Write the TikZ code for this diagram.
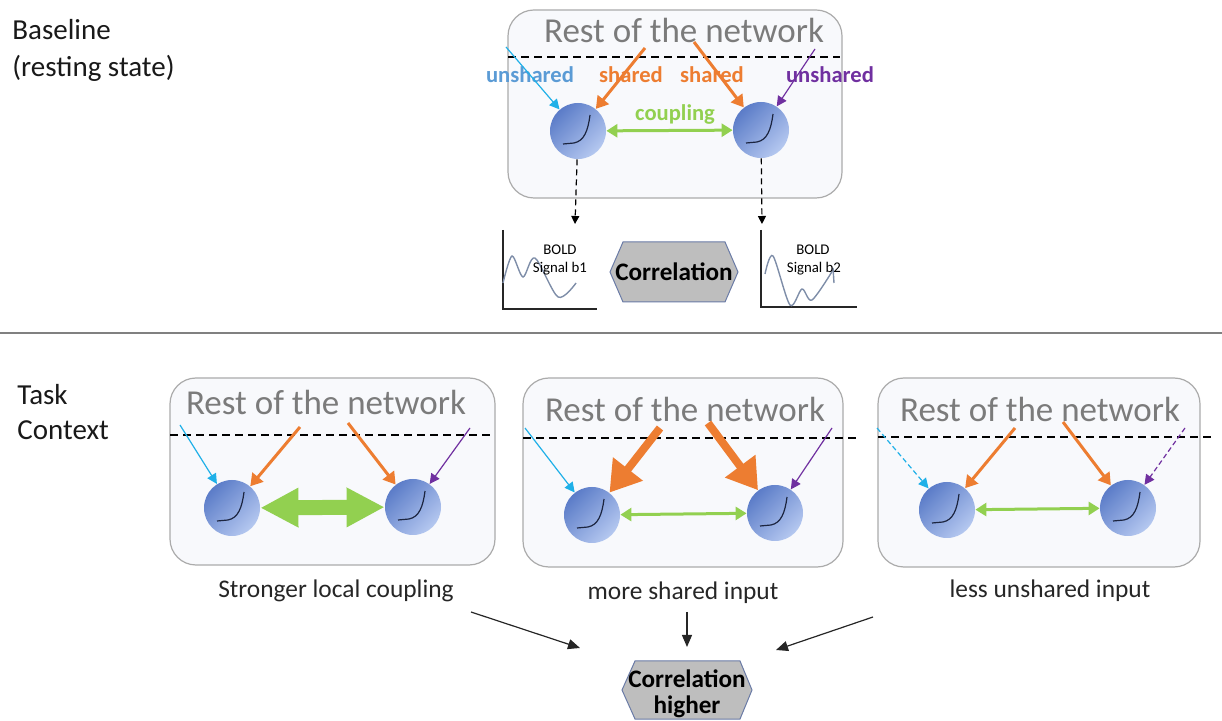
\documentclass[tikz,border=0pt]{standalone}
\usepackage{fontspec}
\setmainfont{Carlito}
\usetikzlibrary{arrows.meta}
\definecolor{boxfill}{HTML}{F8F9FC}
\definecolor{boxline}{HTML}{ABABAB}
\definecolor{restgray}{HTML}{7B7B7B}
\definecolor{cyanA}{HTML}{1FB0E8}
\definecolor{blueT}{HTML}{5B9BD5}
\definecolor{orangeA}{HTML}{ED7D31}
\definecolor{purpleA}{HTML}{7030A0}
\definecolor{greenA}{HTML}{92D050}
\definecolor{nbA}{HTML}{5B7CC8}
\definecolor{nbM}{HTML}{88A4E0}
\definecolor{nbB}{HTML}{B5C8F0}
\definecolor{hexfill}{HTML}{BEBEBE}
\definecolor{hexline}{HTML}{6A7BA6}
\definecolor{wavec}{HTML}{7E8DA8}
\definecolor{sepgray}{HTML}{808080}
\definecolor{curvec}{HTML}{1C2540}
\begin{document}
\begin{tikzpicture}[x=0.5pt,y=-0.5pt,
  netbox/.style={draw=boxline, line width=0.6pt, fill=boxfill, rounded corners=13pt, inner sep=0},
  restlabel/.style={text=restgray, font=\fontsize{17.5}{20}\selectfont, inner sep=0, anchor=base},
  netdash/.style={line width=1pt, dash pattern=on 4pt off 2.5pt},
  neuron/.style={circle, minimum size=28pt, inner sep=0, draw=none, top color=nbA, middle color=nbM, bottom color=nbB, shading angle=45,
    path picture={\begin{scope}[shift={(path picture bounding box.center)}]
      \draw[curvec, line width=0.6pt] (-7.5pt,-6.5pt) -- (-2pt,-6pt) .. controls (3pt,-5pt) and (5pt,0pt) .. (6pt,8pt);
    \end{scope}}},
  inlabel/.style={font=\bfseries\fontsize{11.3}{13}\selectfont, inner sep=0, anchor=base},
  thinarr/.style={line width=0.6pt, -{Triangle[width=5pt,length=5pt]}},
  thindash/.style={thinarr, dash pattern=on 2.5pt off 1.5pt},
  sharedarr/.style={draw=orangeA, line width=1.5pt, -{Triangle[width=7pt,length=6pt]}},
  bigshared/.style={draw=orangeA, line width=4pt, -{Triangle[width=18pt,length=15pt]}},
  couple/.style={draw=greenA, line width=1.5pt, {Triangle[width=6.5pt,length=5.5pt]}-{Triangle[width=6.5pt,length=5.5pt]}},
  bigcouple/.style={draw=greenA, line width=7.5pt, {Triangle[width=18.5pt,length=19pt]}-{Triangle[width=18.5pt,length=19pt]}},
  downarr/.style={line width=0.6pt, dash pattern=on 3pt off 2pt, -{Triangle[width=4pt,length=4pt]}},
  boldtxt/.style={font=\fontsize{7.4}{9}\selectfont, inner sep=0, anchor=base},
  hexshape/.style={fill=hexfill, draw=hexline, line width=0.5pt},
  corrtxt/.style={font=\bfseries\fontsize{12.6}{13}\selectfont, inner sep=0, align=center},
  caption/.style={font=\fontsize{12.7}{15}\selectfont, inner sep=0, anchor=base, text=black!85},
  sidetitle/.style={font=\fontsize{14.5}{18.5}\selectfont, inner sep=0, anchor=base west, text=black!90},
  resarr/.style={line width=0.6pt, draw=black!85, -{Triangle[width=5pt,length=6pt]}}
]
\useasboundingbox (0,0) rectangle (1222,721);

% side titles
\node[sidetitle] (tb1) at (12,40) {Baseline};
\node[sidetitle] (tb2) at (12,77) {(resting state)};
\node[sidetitle] (tt1) at (17,405) {Task};
\node[sidetitle] (tt2) at (17,440) {Context};

% separator
\draw[sepgray, line width=0.8pt] (0,333) -- (1222,333);

% ===== top box =====
\node[netbox, minimum width=167pt, minimum height=94pt] (box0) at (675,104) {};
\node[restlabel] (rest0) at (684,43) {Rest of the network};
\draw[netdash] (508,57) -- (840,57);
\node[neuron] (b0L) at (578,131) {};
\node[neuron] (b0R) at (761,130) {};
\node[inlabel, text=blueT] (u0L) at (530,83) {unshared};
\node[inlabel, text=orangeA] (s0L) at (631,83) {shared};
\node[inlabel, text=orangeA] (s0R) at (712,83) {shared};
\node[inlabel, text=purpleA] (u0R) at (830,83) {unshared};
\node[inlabel, text=greenA] (cp0) at (675,121) {coupling};
\coordinate (c0c) at (506,47);
\coordinate (c0oL) at (645,48);
\coordinate (c0oR) at (694,42);
\coordinate (c0p) at (815,49);
\draw[thinarr, cyanA] (c0c) -- (b0L);
\draw[sharedarr] (c0oL) -- (b0L);
\draw[sharedarr] (c0oR) -- (b0R);
\draw[thinarr, purpleA] (c0p) -- (b0R);
\draw[couple] (b0L) -- (b0R);
\coordinate (d0L) at (575,224);
\coordinate (d0R) at (762,224);
\draw[downarr] (b0L) -- (d0L);
\draw[downarr] (b0R) -- (d0R);

% BOLD graphs
\draw[black!85, line width=1pt] (503,230) -- (503,309) -- (597,309);
\draw[wavec, line width=0.7pt] plot[smooth] coordinates {(503,283) (512,256) (523,277) (535,258) (558,297) (576,283)};
\node[boldtxt] (bold1a) at (560,255) {BOLD};
\node[boldtxt] (bold1b) at (560,273) {Signal b1};
\draw[black!85, line width=1pt] (761,230) -- (761,307) -- (857,307);
\draw[wavec, line width=0.7pt] plot[smooth] coordinates {(765,274) (773,256) (790,305) (802,289) (812,300) (833,270)};
\draw[wavec, line width=0.7pt] (833,268) -- (834,283);
\node[boldtxt] (bold2a) at (813,255) {BOLD};
\node[boldtxt] (bold2b) at (814,273) {Signal b2};

% correlation hexagon top
\draw[hexshape] (610,272) -- (623,242) -- (725,242) -- (738,272) -- (725,302) -- (623,302) -- cycle;
\node[corrtxt] (corr1) at (674,272) {Correlation};

% ===== box 1 =====
\node[netbox, minimum width=162.5pt, minimum height=93.5pt] (box1) at (332.5,471.5) {};
\node[restlabel] (rest1) at (326,415) {Rest of the network};
\draw[netdash] (170,435) -- (493,435);
\node[neuron] (b1L) at (232,508) {};
\node[neuron] (b1R) at (413,507) {};
\coordinate (c1c) at (180,425);
\coordinate (c1oL) at (300,427);
\coordinate (c1oR) at (348,423);
\coordinate (c1p) at (470,428);
\draw[thinarr, cyanA] (c1c) -- (b1L);
\draw[sharedarr] (c1oL) -- (b1L);
\draw[sharedarr] (c1oR) -- (b1R);
\draw[thinarr, purpleA] (c1p) -- (b1R);
\draw[bigcouple] (b1L) -- (b1R);

% ===== box 2 =====
\node[netbox, minimum width=160pt, minimum height=94.5pt] (box2) at (683,472.5) {};
\node[restlabel] (rest2) at (685,422) {Rest of the network};
\draw[netdash] (523,438) -- (860,438);
\node[neuron] (b2L) at (592,515) {};
\node[neuron] (b2R) at (775,513) {};
\coordinate (c2c) at (525,428);
\coordinate (c2oL) at (660,428);
\coordinate (c2oR) at (708,423);
\coordinate (c2p) at (832,428);
\draw[thinarr, cyanA] (c2c) -- (b2L);
\draw[bigshared] (c2oL) -- (b2L);
\draw[bigshared] (c2oR) -- (b2R);
\draw[thinarr, purpleA] (c2p) -- (b2R);
\draw[couple] (b2L) -- (b2R);

% ===== box 3 =====
\node[netbox, minimum width=161pt, minimum height=94.5pt] (box3) at (1039,472.5) {};
\node[restlabel] (rest3) at (1040,422) {Rest of the network};
\draw[netdash] (878,437) -- (1213,437);
\node[neuron] (b3L) at (947,510) {};
\node[neuron] (b3R) at (1128,508) {};
\coordinate (c3c) at (877,428);
\coordinate (c3oL) at (1015,428);
\coordinate (c3oR) at (1063,422);
\coordinate (c3p) at (1185,428);
\draw[thindash, cyanA] (c3c) -- (b3L);
\draw[sharedarr] (c3oL) -- (b3L);
\draw[sharedarr] (c3oR) -- (b3R);
\draw[thindash, purpleA] (c3p) -- (b3R);
\draw[couple] (b3L) -- (b3R);

% captions
\node[caption] (cap1) at (336,598) {Stronger local coupling};
\node[caption] (cap2) at (683,600) {more shared input};
\node[caption] (cap3) at (1050,598) {less unshared input};

% result arrows
\coordinate (a1s) at (471,612);
\coordinate (a1e) at (580,648);
\coordinate (a2s) at (687,612);
\coordinate (a2e) at (687,647);
\coordinate (a3s) at (873,617);
\coordinate (a3e) at (776,650);
\draw[resarr] (a1s) -- (a1e);
\draw[resarr] (a2s) -- (a2e);
\draw[resarr] (a3s) -- (a3e);

% correlation hexagon bottom
\draw[hexshape] (622,690) -- (635,661) -- (740,661) -- (752,690) -- (740,719) -- (635,719) -- cycle;
\node[corrtxt] (corr2) at (687,694) {Correlation\\higher};
\end{tikzpicture}
\end{document}
